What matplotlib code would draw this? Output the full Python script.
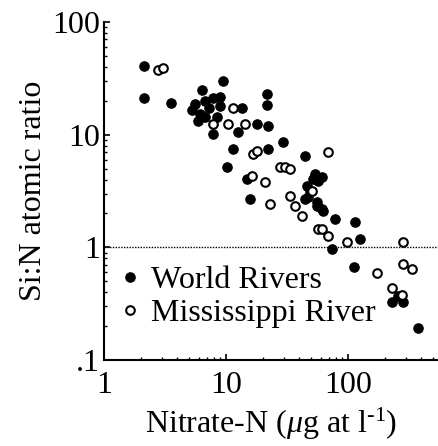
import matplotlib
matplotlib.use("Agg")
import matplotlib.pyplot as plt
from matplotlib.ticker import LogLocator, NullFormatter, FixedFormatter, FixedLocator

# World Rivers (filled): nitrate-N (ug at/l), Si:N atomic ratio
world_n = [2.13, 2.13, 3.54, 9.45, 6.36, 5.57, 6.73, 7.82, 8.93, 6.12, 5.89, 8.44,
           8.93, 7.82, 12.5, 13.5, 11.4, 10.2, 21.7, 21.7, 17.9, 22.1, 22.1, 29.3,
           44.4, 14.9, 15.7, 51.6, 61.2, 46.1, 47.0, 55.7, 61.2, 78.2, 48.8, 55.7,
           62.4, 114, 125, 73.9, 112, 229, 282, 257, 375, 44.4, 53.7, 56.8, 6.73,
           5.26, 7.26]
world_si = [40.5, 21.0, 19.3, 29.7, 24.7, 18.9, 20.1, 21.0, 21.8, 15.4, 13.3, 14.5,
            17.8, 10.2, 10.6, 17.1, 7.50, 5.18, 23.2, 18.2, 12.5, 12.0, 7.5, 8.66,
            6.49, 4.05, 2.68, 4.05, 4.22, 3.50, 2.80, 2.52, 2.18, 1.78, 3.16, 2.32,
            2.10, 1.67, 1.18, 0.96, 0.663, 0.330, 0.330, 0.373, 0.193, 2.68, 4.48,
            3.88, 14.5, 16.4, 17.1]

# Mississippi River (open)
miss_n = [2.77, 3.05, 11.4, 10.4, 14.3, 7.82, 16.6, 17.9, 20.9, 22.9, 27.7, 30.5,
          33.5, 68.6, 33.5, 36.8, 42.0, 56.8, 61.2, 68.6, 98.1, 173, 282, 282, 335,
          229, 277, 50.7, 16.3]
miss_si = [37.3, 38.8, 17.1, 12.5, 12.5, 12.5, 6.77, 7.20, 3.80, 2.42, 5.18, 5.18,
           4.97, 7.05, 2.85, 2.32, 1.89, 1.45, 1.45, 1.25, 1.11, 0.598, 1.11, 0.705,
           0.636, 0.439, 0.381, 3.16, 4.30]

y_ticks = [0.1, 1, 10, 100]
y_labels = [".1", "1", "10", "100"]
x_ticks = [1, 10, 100]
x_labels = ["1", "10", "100"]

plt.rcParams.update({
    "font.family": "Liberation Serif",
    "mathtext.fontset": "custom",
    "mathtext.rm": "Liberation Serif",
    "mathtext.it": "Liberation Serif:italic",
})

fig = plt.figure(figsize=(4.38, 4.46), dpi=100)
ax = fig.add_axes([0.2374, 0.1928, 0.7626, 0.7578])

ax.set_xscale("log")
ax.set_yscale("log")
ax.set_xlim(1, 547)
ax.set_ylim(0.1, 100)

ax.axhline(1, color="black", lw=1.0, ls=(0, (1, 1)), zorder=1)

ax.plot(world_n, world_si, ls="none", marker="o", ms=6.8, mfc="black", mec="black",
        mew=0.8, label="World Rivers", zorder=2)
ax.plot(miss_n, miss_si, ls="none", marker="o", ms=6.2, mfc="white", mec="black",
        mew=1.5, label="Mississippi River", zorder=3)

for side in ("top", "right"):
    ax.spines[side].set_visible(False)
ax.spines["left"].set_linewidth(1.5)
ax.spines["bottom"].set_linewidth(1.5)

ax.xaxis.set_major_locator(FixedLocator(x_ticks))
ax.xaxis.set_major_formatter(FixedFormatter(x_labels))
ax.yaxis.set_major_locator(FixedLocator(y_ticks))
ax.yaxis.set_major_formatter(FixedFormatter(y_labels))
ax.xaxis.set_minor_locator(LogLocator(base=10, subs=range(2, 10)))
ax.yaxis.set_minor_locator(LogLocator(base=10, subs=range(2, 10)))
ax.xaxis.set_minor_formatter(NullFormatter())
ax.yaxis.set_minor_formatter(NullFormatter())
ax.tick_params(which="major", direction="in", length=4, width=1.2, labelsize=23)
ax.tick_params(axis="y", which="major", pad=3)
ax.tick_params(axis="x", which="major", pad=8)
ax.tick_params(which="minor", direction="in", length=2.5, width=1.0)

ax.set_ylabel("Si:N atomic ratio", fontsize=23, labelpad=3)
ax.set_xlabel(r"Nitrate-N ($\mu$g at l$^{\text{-1}}$)", fontsize=23, labelpad=4)

ax.legend(loc="lower left", bbox_to_anchor=(0.05, 0.095), frameon=False, fontsize=23,
          handlelength=0.6, handletextpad=0.36, labelspacing=0.12, borderpad=0,
          borderaxespad=0)

fig.savefig("out.png", dpi=100)
